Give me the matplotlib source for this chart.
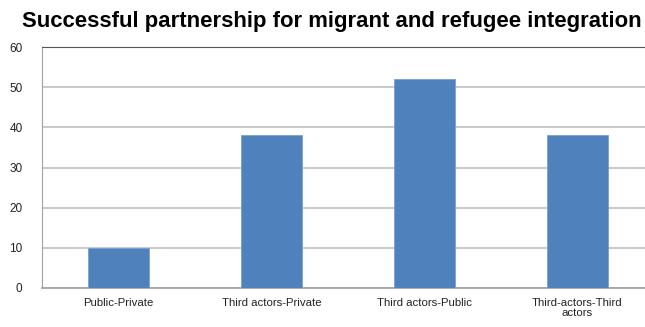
import numpy as np
import matplotlib.pyplot as plt

plt.rcParams['font.family'] = ['Liberation Sans', 'DejaVu Sans']

categorias = ["Public-Private", "Third actors-Private", "Third actors-Public", "Third-actors-Third\nactors"]
valores = [10, 38, 52, 38]
ticks_y = [0, 10, 20, 30, 40, 50, 60]

fig = plt.figure(figsize=(6.45, 3.27), dpi=100)
ax = fig.add_axes([42/645, 1-288/327, 1-42/645, (288-47)/327])

x = np.arange(len(categorias))
ax.bar(x, valores, width=0.4, color='#4f81bd', edgecolor='#7a9fd0', linewidth=0.6, zorder=3)

ax.set_ylim(0, 60)
ax.set_xlim(-0.5, (645-42)/153 - 0.5)
ax.set_yticks(ticks_y)
ax.set_xticks(x)
ax.set_xticklabels(categorias, fontsize=8.2, color='#222222', linespacing=1.0)
ax.tick_params(axis='y', labelsize=8.5, colors='#222222', length=0, pad=14)
ax.tick_params(axis='x', length=0, pad=7)
ax.grid(axis='y', color='#c0c0c0', linewidth=1.2, zorder=0)

ax.spines['right'].set_visible(False)
ax.spines['left'].set_color('#a0a0a0')
ax.spines['bottom'].set_color('#a0a0a0')
ax.spines['top'].set_color('#555555')
ax.spines['bottom'].set_linewidth(1.2)

fig.text(22/645, 1-22/327, "Successful partnership for migrant and refugee integration",
         fontsize=15.9, fontweight='bold', ha='left', va='center')

fig.savefig("out.png", dpi=100)
